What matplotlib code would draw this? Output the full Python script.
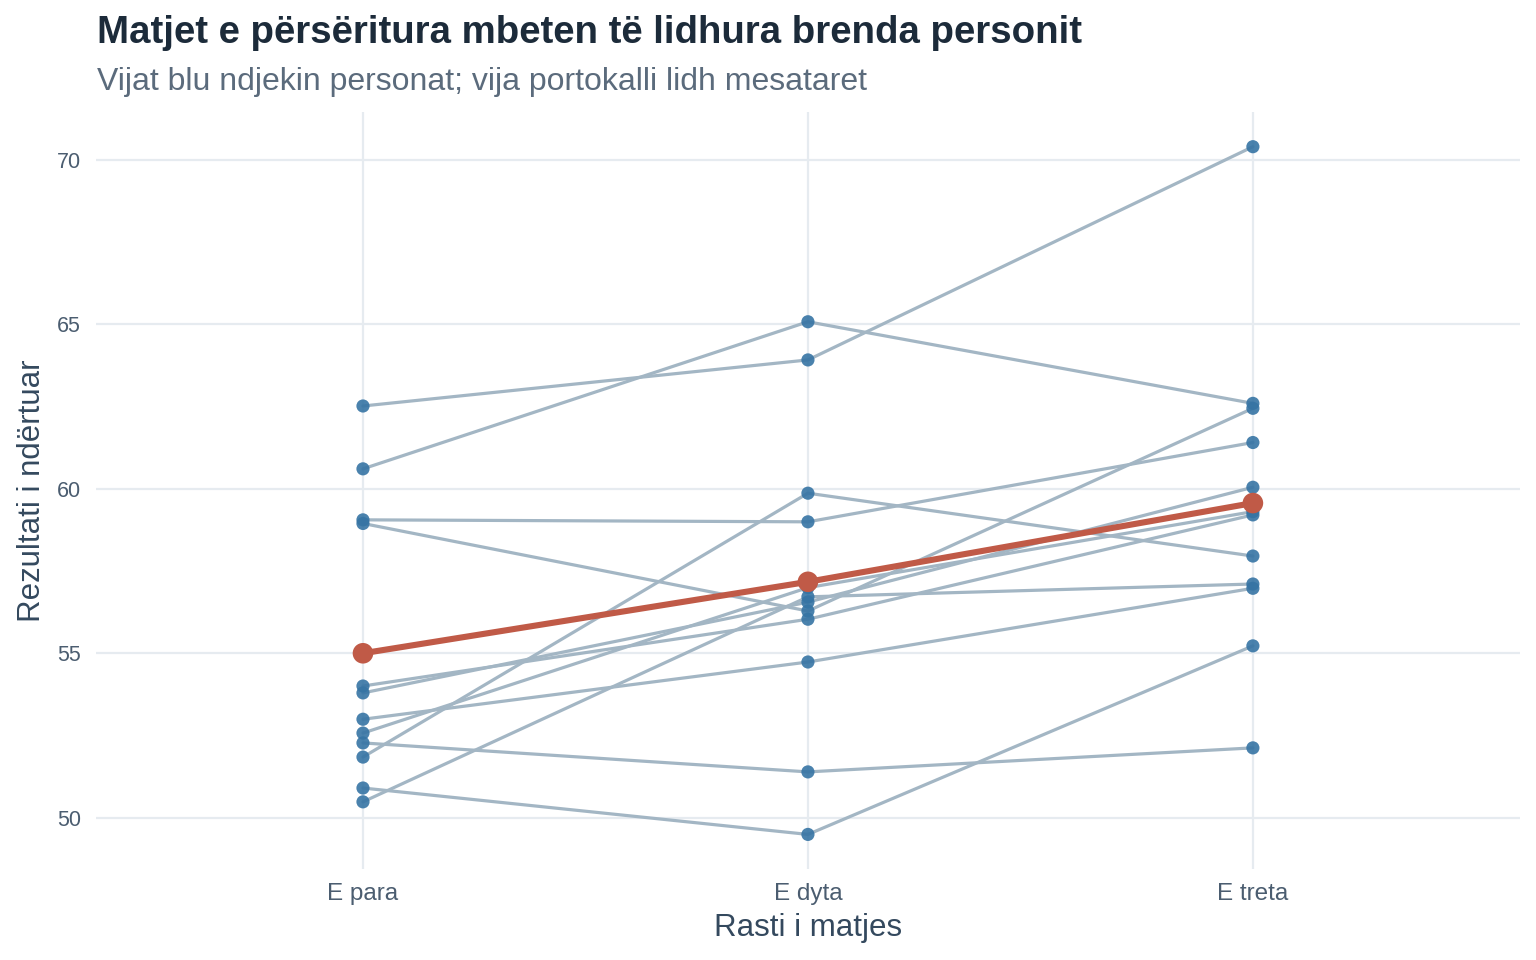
import numpy as np
import matplotlib.pyplot as plt

plt.rcParams['font.family'] = ['Liberation Sans', 'DejaVu Sans']

# measurement occasions
occasions = ["E para", "E dyta", "E treta"]

# one row per person: first, second, third measurement
e_para = [62.52, 60.61, 59.06, 58.95, 54.01, 53.80, 53.00, 52.58, 52.28, 51.85, 50.91, 50.49]
e_dyta = [63.92, 65.08, 59.00, 56.29, 56.04, 56.56, 54.74, 57.00, 51.40, 59.87, 49.50, 56.72]
e_treta = [70.40, 62.60, 61.41, 62.45, 59.21, 60.05, 56.98, 59.31, 52.13, 57.96, 55.23, 57.11]

yticks = [50, 55, 60, 65, 70]

scores = np.array([e_para, e_dyta, e_treta])
means = scores.mean(axis=1)
x = np.arange(len(occasions))

fig = plt.figure(figsize=(15.36, 9.6), dpi=100)
ax = fig.add_axes([0.0625, 0.095, 0.927, 0.788])

for person in scores.T:
    ax.plot(x, person, color="#a3b6c4", lw=2.3, solid_capstyle="round", zorder=2)
for person in scores.T:
    ax.scatter(x, person, s=90, color="#3674a4", alpha=0.9, edgecolors="none", zorder=3)

ax.plot(x, means, color="#c05a47", lw=4.4, solid_capstyle="round", zorder=4)
ax.scatter(x, means, s=220, color="#c05a47", edgecolors="none", zorder=5)

lo, hi = scores.min(), scores.max()
pad = (hi - lo) * 0.05
ax.set_ylim(lo - pad, hi + pad)
ax.set_xlim(-0.6, len(occasions) - 0.4)
ax.set_xticks(x)
ax.set_xticklabels(occasions)
ax.set_yticks(yticks)

ax.grid(True, color="#e6ebf0", lw=1.6)
ax.set_axisbelow(True)
for s in ax.spines.values():
    s.set_visible(False)
ax.tick_params(axis="both", length=0)
ax.tick_params(axis="x", labelsize=17.5, colors="#4b5d70", pad=10)
ax.tick_params(axis="y", labelsize=15.5, colors="#4b5d70", pad=11)

ax.set_xlabel("Rasti i matjes", fontsize=22.5, color="#34495e", labelpad=6)
ax.set_ylabel("Rezultati i ndërtuar", fontsize=22.5, color="#34495e", labelpad=7)

fig.text(0.063, 0.955, "Matjet e përsëritura mbeten të lidhura brenda personit",
         fontsize=27.6, fontweight="bold", color="#1c2b3a", va="baseline")
fig.text(0.063, 0.906, "Vijat blu ndjekin personat; vija portokalli lidh mesataret",
         fontsize=23, color="#5b6b7c", va="baseline")

fig.savefig("out.png", dpi=100)
